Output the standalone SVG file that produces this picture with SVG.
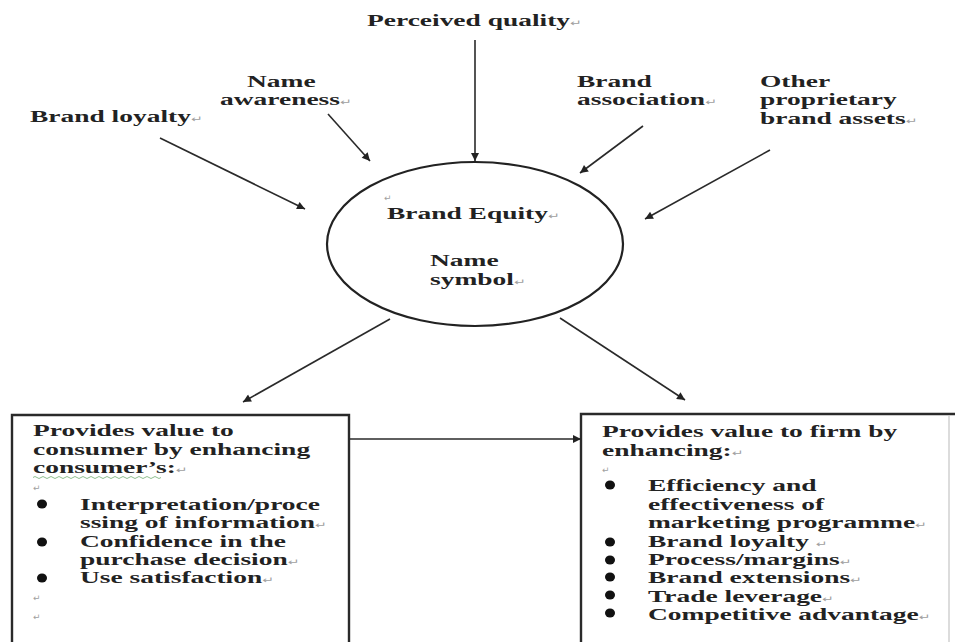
<svg xmlns="http://www.w3.org/2000/svg" width="956" height="642" viewBox="0 0 956 642">
<defs>
<style>
.t{font-family:"Liberation Serif","Times New Roman",serif;font-weight:bold;font-size:17.5px;fill:#222}
.pm{font-family:"DejaVu Sans",sans-serif;font-weight:normal;font-size:9px;fill:#a0a0a0}
.c{fill:none;stroke:#2a2a2a;stroke-width:1.6}
.box{fill:none;stroke:#2a2a2a;stroke-width:2.4}
.dot{fill:#111}
</style>
<marker id="ah" viewBox="0 0 10 10" refX="10" refY="5" markerWidth="11" markerHeight="8" markerUnits="userSpaceOnUse" orient="auto">
<path d="M0,0 L10,5 L0,10 z" fill="#222"/>
</marker>
</defs>
<rect width="956" height="642" fill="#ffffff"/>

<g id="perceived-quality">
<text class="t" transform="translate(367 26) scale(1.57 1)">Perceived quality<tspan class="pm">↵</tspan></text>
</g>
<g id="name-awareness">
<text class="t" transform="translate(220 0) scale(1.57 1)"><tspan x="17.2" y="87">Name</tspan><tspan x="0" y="105">awareness<tspan class="pm">↵</tspan></tspan></text>
</g>
<g id="brand-loyalty">
<text class="t" transform="translate(30 122) scale(1.57 1)">Brand loyalty<tspan class="pm">↵</tspan></text>
</g>
<g id="brand-association">
<text class="t" transform="translate(577 0) scale(1.57 1)"><tspan x="0" y="87">Brand</tspan><tspan x="0" y="105">association<tspan class="pm">↵</tspan></tspan></text>
</g>
<g id="other-assets">
<text class="t" transform="translate(760 0) scale(1.57 1)"><tspan x="0" y="87">Other</tspan><tspan x="0" y="105">proprietary</tspan><tspan x="0" y="124">brand assets<tspan class="pm">↵</tspan></tspan></text>
</g>

<g id="brand-equity">
<ellipse cx="475" cy="244" rx="148" ry="82" fill="none" stroke="#222" stroke-width="2.2"/>
<text class="pm" x="384" y="201">↵</text>
<text class="t" transform="translate(387 219) scale(1.57 1)">Brand Equity<tspan class="pm">↵</tspan></text>
<text class="t" transform="translate(430 0) scale(1.57 1)"><tspan x="0" y="266">Name</tspan><tspan x="0" y="285">symbol<tspan class="pm">↵</tspan></tspan></text>
</g>

<g id="consumer-box">
<path class="box" d="M12,642 V415 H349 V642"/>
<text class="t" transform="translate(33 0) scale(1.57 1)"><tspan x="0" y="436">Provides value to</tspan><tspan x="0" y="455">consumer by enhancing</tspan><tspan x="0" y="473">consumer’s:<tspan class="pm">↵</tspan></tspan></text>
<path d="M33,477.5 q2,-2 4,0 t4,0 t4,0 t4,0 t4,0 t4,0 t4,0 t4,0 t4,0 t4,0 t4,0 t4,0 t4,0 t4,0 t4,0 t4,0 t4,0 t4,0 t4,0 t4,0 t4,0 t4,0 t4,0 t4,0 t4,0 t4,0 t4,0 t4,0 t4,0 t4,0 t4,0 t4,0" fill="none" stroke="#8fbf8f" stroke-width="1"/>
<text class="pm" x="33" y="491">↵</text>
<ellipse class="dot" cx="42" cy="504" rx="5" ry="4.5"/>
<ellipse class="dot" cx="42" cy="542" rx="5" ry="4.5"/>
<ellipse class="dot" cx="42" cy="578" rx="5" ry="4.5"/>
<text class="t" transform="translate(80 0) scale(1.57 1)"><tspan x="0" y="510">Interpretation/proce</tspan><tspan x="0" y="528">ssing of information<tspan class="pm">↵</tspan></tspan><tspan x="0" y="547">Confidence in the</tspan><tspan x="0" y="565">purchase decision<tspan class="pm">↵</tspan></tspan><tspan x="0" y="583">Use satisfaction<tspan class="pm">↵</tspan></tspan></text>
<text class="pm" x="33" y="601">↵</text>
<text class="pm" x="33" y="620">↵</text>
</g>

<g id="firm-box">
<path class="box" d="M581,642 V414 H955"/>
<line x1="949" y1="416" x2="949" y2="642" stroke="#d0d0d0" stroke-width="1.5"/>
<text class="t" transform="translate(602 0) scale(1.57 1)"><tspan x="0" y="437">Provides value to firm by</tspan><tspan x="0" y="456">enhancing:<tspan class="pm">↵</tspan></tspan></text>
<text class="pm" x="602" y="473">↵</text>
<ellipse class="dot" cx="610" cy="485" rx="5" ry="4.5"/>
<ellipse class="dot" cx="610" cy="542" rx="5" ry="4.5"/>
<ellipse class="dot" cx="610" cy="560" rx="5" ry="4.5"/>
<ellipse class="dot" cx="610" cy="577" rx="5" ry="4.5"/>
<ellipse class="dot" cx="610" cy="595" rx="5" ry="4.5"/>
<ellipse class="dot" cx="610" cy="613" rx="5" ry="4.5"/>
<text class="t" transform="translate(648 0) scale(1.57 1)"><tspan x="0" y="491">Efficiency and</tspan><tspan x="0" y="510">effectiveness of</tspan><tspan x="0" y="528">marketing programme<tspan class="pm">↵</tspan></tspan><tspan x="0" y="547">Brand loyalty <tspan class="pm">↵</tspan></tspan><tspan x="0" y="565">Process/margins<tspan class="pm">↵</tspan></tspan><tspan x="0" y="583">Brand extensions<tspan class="pm">↵</tspan></tspan><tspan x="0" y="602">Trade leverage<tspan class="pm">↵</tspan></tspan><tspan x="0" y="620">Competitive advantage<tspan class="pm">↵</tspan></tspan></text>
</g>

<g id="connectors">
<path class="c" d="M475,40 L475,161" marker-end="url(#ah)"/>
<path class="c" d="M328,114 L370,161" marker-end="url(#ah)"/>
<path class="c" d="M160,138 L305,209" marker-end="url(#ah)"/>
<path class="c" d="M643,126 L580,173" marker-end="url(#ah)"/>
<path class="c" d="M770,150 L645,219" marker-end="url(#ah)"/>
<path class="c" d="M390,319 L243,402" marker-end="url(#ah)"/>
<path class="c" d="M560,318 L685,400" marker-end="url(#ah)"/>
<path class="c" d="M349,439 L581,439" marker-end="url(#ah)"/>
</g>
</svg>
